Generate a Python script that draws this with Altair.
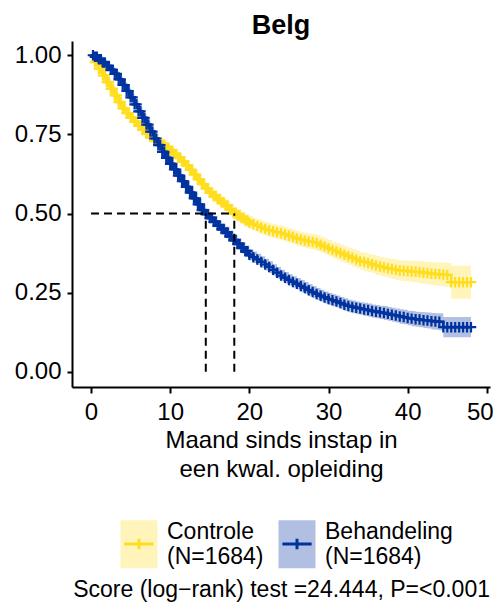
import altair as alt
import pandas as pd

months = [0, 0.5, 1, 1.5, 2, 2.5, 3, 3.5, 4, 4.5,
          5, 5.5, 6, 6.5, 7, 7.5, 8, 8.5, 9, 9.5,
          10, 10.5, 11, 11.5, 12, 12.5, 13, 13.5, 14, 14.5,
          15, 15.5, 16, 16.5, 17, 17.5, 18, 18.5, 19, 19.5,
          20, 20.5, 21, 21.5, 22, 22.5, 23, 23.5, 24, 24.5,
          25, 25.5, 26, 26.5, 27, 27.5, 28, 28.5, 29, 29.5,
          30, 30.5, 31, 31.5, 32, 32.5, 33, 33.5, 34, 34.5,
          35, 35.5, 36, 36.5, 37, 37.5, 38, 38.5, 39, 39.5,
          40, 40.5, 41, 41.5, 42, 42.5, 43, 43.5, 44, 44.5,
          45, 45.5, 46, 46.5, 47, 47.5, 48]

surv_controle = [1.000, 0.978, 0.957, 0.936, 0.915, 0.894, 0.873, 0.852, 0.832, 0.817,
                 0.803, 0.790, 0.777, 0.764, 0.752, 0.742, 0.733, 0.725, 0.717, 0.708,
                 0.698, 0.688, 0.677, 0.665, 0.652, 0.638, 0.623, 0.608, 0.593, 0.579,
                 0.566, 0.555, 0.545, 0.535, 0.525, 0.513, 0.502, 0.494, 0.486, 0.478,
                 0.471, 0.466, 0.461, 0.456, 0.451, 0.447, 0.444, 0.441, 0.438, 0.434,
                 0.430, 0.426, 0.421, 0.418, 0.415, 0.412, 0.410, 0.407, 0.401, 0.396,
                 0.390, 0.385, 0.380, 0.375, 0.370, 0.365, 0.360, 0.355, 0.350, 0.347,
                 0.344, 0.340, 0.336, 0.333, 0.330, 0.327, 0.325, 0.322, 0.320, 0.319,
                 0.318, 0.317, 0.316, 0.315, 0.313, 0.312, 0.310, 0.309, 0.308, 0.307,
                 0.306, 0.283, 0.283, 0.283, 0.283, 0.283, 0.283]

surv_behandeling = [1.000, 0.995, 0.987, 0.977, 0.966, 0.954, 0.941, 0.924, 0.906, 0.887,
                    0.867, 0.845, 0.823, 0.802, 0.781, 0.759, 0.737, 0.716, 0.695, 0.676,
                    0.657, 0.639, 0.620, 0.602, 0.584, 0.566, 0.548, 0.529, 0.511, 0.498,
                    0.486, 0.474, 0.462, 0.451, 0.440, 0.428, 0.416, 0.404, 0.392, 0.381,
                    0.370, 0.362, 0.355, 0.347, 0.339, 0.331, 0.322, 0.313, 0.304, 0.297,
                    0.290, 0.284, 0.278, 0.271, 0.265, 0.258, 0.252, 0.246, 0.240, 0.235,
                    0.230, 0.226, 0.222, 0.217, 0.212, 0.208, 0.205, 0.202, 0.200, 0.197,
                    0.195, 0.192, 0.190, 0.188, 0.186, 0.183, 0.180, 0.178, 0.175, 0.173,
                    0.170, 0.168, 0.166, 0.165, 0.163, 0.162, 0.160, 0.159, 0.158, 0.141,
                    0.141, 0.141, 0.141, 0.141, 0.141, 0.141, 0.141]

ci_controle = [0.000, 0.006, 0.008, 0.009, 0.010, 0.011, 0.011, 0.012, 0.012, 0.013,
               0.013, 0.013, 0.014, 0.014, 0.014, 0.015, 0.015, 0.015, 0.015, 0.016,
               0.016, 0.016, 0.016, 0.017, 0.017, 0.017, 0.017, 0.018, 0.018, 0.018,
               0.018, 0.018, 0.019, 0.019, 0.019, 0.019, 0.020, 0.020, 0.020, 0.020,
               0.021, 0.021, 0.021, 0.021, 0.022, 0.022, 0.022, 0.022, 0.023, 0.023,
               0.023, 0.023, 0.024, 0.024, 0.024, 0.024, 0.025, 0.025, 0.025, 0.025,
               0.026, 0.026, 0.026, 0.027, 0.027, 0.027, 0.028, 0.028, 0.028, 0.029,
               0.029, 0.029, 0.030, 0.030, 0.030, 0.031, 0.031, 0.032, 0.032, 0.033,
               0.033, 0.034, 0.034, 0.035, 0.035, 0.036, 0.036, 0.037, 0.037, 0.038,
               0.038, 0.052, 0.052, 0.052, 0.052, 0.052, 0.052]

ci_behandeling = [0.000, 0.003, 0.005, 0.006, 0.007, 0.008, 0.009, 0.010, 0.010, 0.011,
                  0.011, 0.012, 0.012, 0.013, 0.013, 0.013, 0.014, 0.014, 0.014, 0.015,
                  0.015, 0.015, 0.015, 0.016, 0.016, 0.016, 0.016, 0.017, 0.017, 0.017,
                  0.017, 0.017, 0.017, 0.017, 0.018, 0.018, 0.018, 0.018, 0.018, 0.018,
                  0.018, 0.018, 0.018, 0.018, 0.018, 0.018, 0.018, 0.018, 0.018, 0.018,
                  0.018, 0.018, 0.018, 0.019, 0.019, 0.019, 0.019, 0.019, 0.019, 0.019,
                  0.019, 0.019, 0.019, 0.019, 0.020, 0.020, 0.020, 0.020, 0.020, 0.021,
                  0.021, 0.021, 0.021, 0.021, 0.022, 0.022, 0.022, 0.022, 0.023, 0.023,
                  0.023, 0.024, 0.024, 0.024, 0.025, 0.025, 0.026, 0.026, 0.027, 0.032,
                  0.032, 0.032, 0.032, 0.032, 0.032, 0.032, 0.032]

groups = ["Controle (N=1684)", "Behandeling (N=1684)"]
colors = ["#FFDD1F", "#0033A0"]
medians = [18.1, 14.5]
x_ticks = [0, 10, 20, 30, 40, 50]
y_ticks = [0, 0.25, 0.5, 0.75, 1.0]
title_text = "Belg"
x_title = ["Maand sinds instap in", "een kwal. opleiding"]
caption = "Score (log\u2212rank) test =24.444, P=<0.001"

FONT = "Liberation Sans"

rows = []
cens = []
for g, surv, ci in [(groups[0], surv_controle, ci_controle),
                    (groups[1], surv_behandeling, ci_behandeling)]:
    for t, s, c in zip(months, surv, ci):
        rows.append({"t": t, "S": s, "lo": s - c, "hi": s + c, "group": g})
        # censoring "+" marks sit on the current step level
        if t > 0:
            cens.append({"t": t, "S": s, "group": g})
        if t < 20:
            cens.append({"t": t + 0.25, "S": s, "group": g})
df = pd.DataFrame(rows)
cens_df = pd.DataFrame(cens)

x_scale = alt.Scale(domain=[-2.4, 50.4], nice=False, zero=False)
y_scale = alt.Scale(domain=[-0.048, 1.045], nice=False, zero=False)
fill_scale = alt.Scale(domain=groups, range=colors)
stroke_scale = alt.Scale(range=colors)

x_axis = alt.Axis(values=x_ticks, format="d", grid=False, title=x_title,
                  titleFontWeight="normal", titleFontSize=24, titleLineHeight=29,
                  titlePadding=4, labelFontSize=24, labelPadding=7, tickSize=6,
                  labelOffset={"condition": {"test": "datum.value == 50", "value": -7},
                               "value": 0})
y_axis = alt.Axis(values=y_ticks, format=".2f", grid=False, labelFontSize=24,
                  labelPadding=6, tickSize=5)

legend_common = dict(orient="none", legendX=43, legendY=479, direction="horizontal",
                     columns=2, title=None, symbolSize=2025, symbolStrokeWidth=3,
                     labelFontSize=23, labelOffset=4, columnPadding=9,
                     labelBaseline="bottom",
                     labelExpr="split(datum.label, ' ')", padding=0)

band = alt.Chart(df).mark_area(interpolate="step-after", fillOpacity=0.3, strokeWidth=0).encode(
    x=alt.X("t:Q", scale=x_scale, axis=x_axis),
    y=alt.Y("lo:Q", scale=y_scale, axis=y_axis, title=None),
    y2="hi:Q",
    fill=alt.Fill("group:N", scale=fill_scale, sort=groups,
                  legend=alt.Legend(symbolType="M-0.756,-1H0.756V1H-0.756Z",
                                    symbolOpacity=0.3, symbolStrokeColor="transparent",
                                    labelOpacity=0, **legend_common)),
)

layers = [band]
for g in groups:
    line = alt.Chart(df).transform_filter(alt.datum.group == g).mark_line(
        interpolate="step-after", strokeWidth=2.6
    ).encode(
        x="t:Q",
        y="S:Q",
        stroke=alt.Stroke("group:N", scale=stroke_scale, sort=groups,
                          legend=alt.Legend(symbolType="M-0.65,0H0.65M0,-0.23V0.23",
                                            **legend_common)),
    )
    marks = alt.Chart(cens_df).transform_filter(alt.datum.group == g).mark_point(
        shape="M-1,0H1M0,-1V1", filled=False, size=110, strokeWidth=2.2, opacity=1
    ).encode(
        x="t:Q",
        y="S:Q",
        color=alt.Color("group:N", scale=fill_scale, legend=None),
    )
    layers += [line, marks]

med_df = pd.DataFrame({"t": medians, "y0": [0.0, 0.0], "y1": [0.5, 0.5]})
hline_df = pd.DataFrame({"x0": [0.0], "x1": [max(medians)], "y": [0.5]})

hline = alt.Chart(hline_df).mark_rule(color="black", strokeDash=[8, 5], strokeWidth=2).encode(
    x="x0:Q", x2="x1:Q", y="y:Q"
)
vlines = alt.Chart(med_df).mark_rule(color="black", strokeDash=[8, 5], strokeWidth=2).encode(
    x="t:Q", y="y0:Q", y2="y1:Q"
)

cap = alt.Chart(pd.DataFrame({"txt": [caption]})).mark_text(
    align="right", baseline="alphabetic", fontSize=23, font=FONT, color="black"
).encode(x=alt.value(418), y=alt.value(556), text="txt:N")

chart = alt.layer(*layers, hline, vlines, cap).properties(
    width=418, height=346,
    title=alt.Title(title_text, fontSize=27, fontWeight="bold", font=FONT,
                    anchor="middle", offset=1, color="black"),
    autosize=alt.AutoSizeParams(type="none"),
    padding={"left": 64, "top": 33, "right": 3, "bottom": 215},
).configure_view(stroke=None).configure_axis(
    labelFont=FONT, titleFont=FONT, labelColor="black", titleColor="black",
    domainColor="black", tickColor="black", domainWidth=2, tickWidth=2,
).configure_legend(
    labelFont=FONT, labelColor="black", labelFontSize=23
)

chart.save("out.html", embed_options={"renderer": "svg", "actions": False})
